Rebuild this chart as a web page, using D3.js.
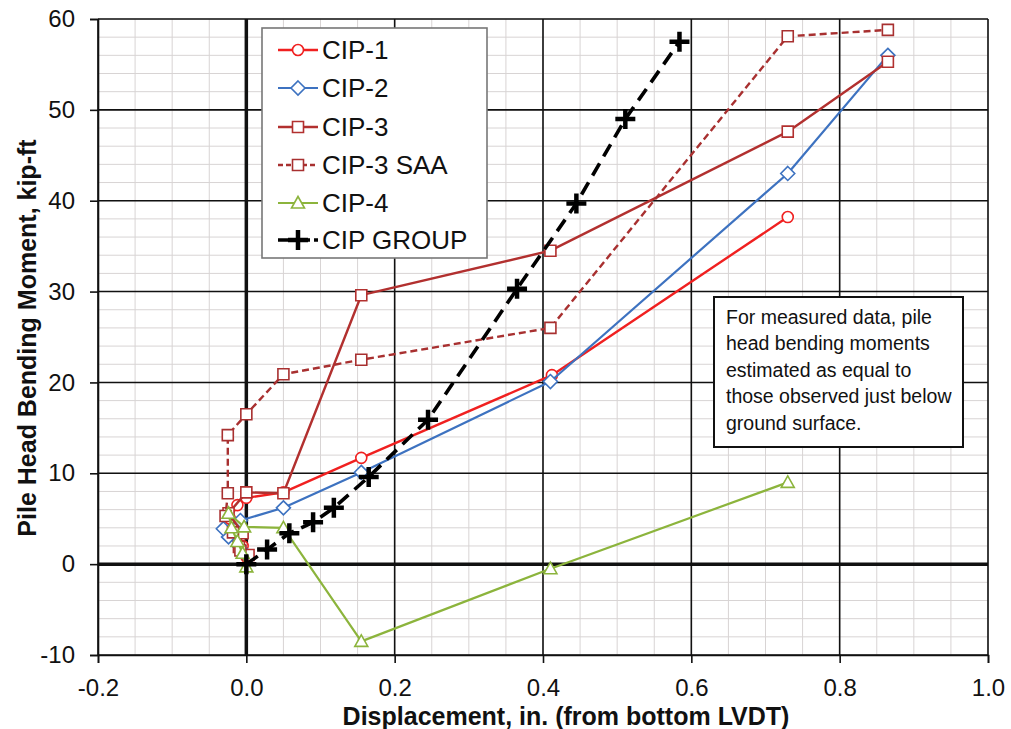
<!DOCTYPE html>
<html>
<head>
<meta charset="utf-8">
<script src="https://cdn.jsdelivr.net/npm/d3@7"></script>
<style>
  body { margin: 0; background: #fff; }
  svg { display: block; }
  text { font-family: "Liberation Sans", Arial, Helvetica, sans-serif; fill: #111; }
</style>
</head>
<body>
<svg id="chart" width="1011" height="729"></svg>
<script>
// Axis ticks
const xTickValues = [-0.2, 0.0, 0.2, 0.4, 0.6, 0.8, 1.0];
const yTickValues = [-10, 0, 10, 20, 30, 40, 50, 60];

// Displacement (in.) and pile head bending moment (kip-ft) per pile
const cip1X = [0.000, -0.005, -0.015, -0.022, -0.012, 0.000, 0.050, 0.155, 0.412, 0.730];
const cip1Y = [0.8, 2.0, 3.5, 5.0, 6.5, 7.3, 7.9, 11.7, 20.8, 38.2];

const cip2X = [0.000, -0.010, -0.024, -0.031, -0.008, 0.050, 0.155, 0.410, 0.730, 0.865];
const cip2Y = [1.0, 2.0, 3.0, 3.9, 4.8, 6.2, 10.1, 20.1, 43.0, 56.0];

const cip3X = [0.003, -0.010, -0.005, -0.024, 0.000, 0.050, 0.155, 0.410, 0.730, 0.865];
const cip3Y = [1.0, 1.9, 3.4, 5.6, 7.9, 7.8, 29.6, 34.5, 47.6, 55.3];

const cip3SaaX = [-0.008, -0.018, -0.028, -0.025, -0.025, 0.000, 0.050, 0.155, 0.410, 0.730, 0.865];
const cip3SaaY = [1.5, 3.5, 5.3, 7.8, 14.2, 16.5, 20.9, 22.5, 26.0, 58.1, 58.8];

const cip4X = [0.000, -0.005, -0.012, -0.020, -0.024, -0.003, 0.050, 0.155, 0.410, 0.730];
const cip4Y = [-0.3, 1.2, 2.5, 4.0, 5.6, 4.1, 4.0, -8.5, -0.5, 9.0];

const groupX = [0.000, 0.028, 0.058, 0.090, 0.118, 0.165, 0.245, 0.365, 0.445, 0.511, 0.584];
const groupY = [0.0, 1.6, 3.4, 4.6, 6.2, 9.6, 15.9, 30.3, 39.7, 49.0, 57.5];

const seriesNames = ["CIP-1", "CIP-2", "CIP-3", "CIP-3 SAA", "CIP-4", "CIP GROUP"];

const noteLines = [
  "For measured data, pile",
  "head bending moments",
  "estimated as equal to",
  "those observed just below",
  "ground surface."
];

(function draw() {
  const series = [
    { name: seriesNames[0], xs: cip1X, ys: cip1Y, color: "#f02020", width: 2.4, dash: null, marker: "circle" },
    { name: seriesNames[1], xs: cip2X, ys: cip2Y, color: "#3d72c0", width: 2.2, dash: null, marker: "diamond" },
    { name: seriesNames[2], xs: cip3X, ys: cip3Y, color: "#b2302f", width: 2.4, dash: null, marker: "square" },
    { name: seriesNames[3], xs: cip3SaaX, ys: cip3SaaY, color: "#a83030", width: 2.4, dash: "7,4", marker: "square" },
    { name: seriesNames[4], xs: cip4X, ys: cip4Y, color: "#8cb43c", width: 2.2, dash: null, marker: "triangle" },
    { name: seriesNames[5], xs: groupX, ys: groupY, color: "#000000", width: 3.6, dash: "14,8", marker: "plus" }
  ];

  const svg = d3.select("#chart");
  const pLeft = 98, pRight = 988, pTop = 19, pBottom = 655;

  const x = d3.scaleLinear().domain([-0.2, 1.0]).range([pLeft, pRight]);
  const y = d3.scaleLinear().domain([-10, 60]).range([pBottom, pTop]);

  svg.append("rect").attr("width", 1011).attr("height", 729).attr("fill", "#fff");

  // Minor grid
  const grid = svg.append("g");
  const minorX = d3.range(-0.2, 1.0001, 0.05).map(v => +v.toFixed(2));
  const minorY = d3.range(-10, 60.001, 2);
  grid.selectAll(".mx").data(minorX).join("line").attr("class", "mx")
    .attr("x1", d => x(d)).attr("x2", d => x(d)).attr("y1", pTop).attr("y2", pBottom)
    .attr("stroke", "#d8d4d4").attr("stroke-width", 1);
  grid.selectAll(".my").data(minorY).join("line").attr("class", "my")
    .attr("y1", d => y(d)).attr("y2", d => y(d)).attr("x1", pLeft).attr("x2", pRight)
    .attr("stroke", "#d8d4d4").attr("stroke-width", 1);

  // Major grid
  grid.selectAll(".Mx").data(xTickValues).join("line").attr("class", "Mx")
    .attr("x1", d => x(d)).attr("x2", d => x(d)).attr("y1", pTop).attr("y2", pBottom)
    .attr("stroke", "#111").attr("stroke-width", d => d === 0 ? 3.5 : 1.6);
  grid.selectAll(".My").data(yTickValues).join("line").attr("class", "My")
    .attr("y1", d => y(d)).attr("y2", d => y(d)).attr("x1", pLeft).attr("x2", pRight)
    .attr("stroke", "#111").attr("stroke-width", d => d === 0 ? 3.5 : 1.6);

  // Axes
  const yAxis = svg.append("g").attr("transform", `translate(${pLeft},0)`)
    .call(d3.axisLeft(y).tickValues(yTickValues).tickSize(8).tickPadding(15).tickFormat(d => String(d)));
  const xAxis = svg.append("g").attr("transform", `translate(0,${pBottom})`)
    .call(d3.axisBottom(x).tickValues(xTickValues).tickSize(8).tickPadding(16).tickFormat(d => d.toFixed(1)));
  [xAxis, yAxis].forEach(g => {
    g.select(".domain").attr("stroke", "#111").attr("stroke-width", 1.6);
    g.selectAll(".tick line").attr("stroke", "#111").attr("stroke-width", 1.6);
    g.selectAll(".tick text").attr("font-size", 24).attr("fill", "#111")
      .style("font-family", '"Liberation Sans", Arial, sans-serif');
  });

  // Axis titles
  svg.append("text")
    .attr("x", 566).attr("y", 725)
    .attr("text-anchor", "middle").attr("font-size", 25).attr("font-weight", "bold")
    .text("Displacement, in. (from bottom LVDT)");
  svg.append("text")
    .attr("transform", "translate(36,338) rotate(-90)")
    .attr("text-anchor", "middle").attr("font-size", 25).attr("font-weight", "bold")
    .text("Pile Head Bending Moment, kip-ft");

  // Marker shapes
  function markerPath(type) {
    switch (type) {
      case "circle": return d3.symbol(d3.symbolCircle, 95)();
      case "diamond": return "M0,-7L7,0L0,7L-7,0Z";
      case "square": return "M-5.5,-5.5H5.5V5.5H-5.5Z";
      case "triangle": return "M0,-6.5L6.5,5L-6.5,5Z";
      case "plus": return "M-10,0H10M0,-10V10";
    }
  }

  const line = d3.line();
  const plot = svg.append("g");
  series.forEach(s => {
    const pts = s.xs.map((v, i) => [x(v), y(s.ys[i])]);
    const g = plot.append("g");
    g.append("path").attr("d", line(pts)).attr("fill", "none")
      .attr("stroke", s.color).attr("stroke-width", s.width)
      .attr("stroke-dasharray", s.dash).attr("stroke-linejoin", "round");
    g.selectAll("path.m").data(pts).join("path").attr("class", "m")
      .attr("transform", d => `translate(${d[0]},${d[1]})`)
      .attr("d", markerPath(s.marker))
      .attr("fill", s.marker === "plus" ? "none" : "#fff")
      .attr("stroke", s.color)
      .attr("stroke-width", s.marker === "plus" ? 4.5 : 1.6);
  });

  // Legend
  const legend = svg.append("g");
  legend.append("rect").attr("x", 262).attr("y", 28).attr("width", 225).attr("height", 230)
    .attr("fill", "#fff").attr("stroke", "#777").attr("stroke-width", 1.6);
  const legendY = [50, 88, 127, 165, 203, 240];
  series.forEach((s, i) => {
    const ly = legendY[i];
    const g = legend.append("g");
    g.append("line").attr("x1", 278).attr("x2", 318).attr("y1", ly).attr("y2", ly)
      .attr("stroke", s.color).attr("stroke-width", s.width)
      .attr("stroke-dasharray", s.dash ? (s.marker === "plus" ? "14,4" : "5,3") : null);
    g.append("path").attr("transform", `translate(298,${ly})`)
      .attr("d", markerPath(s.marker))
      .attr("fill", s.marker === "plus" ? "none" : "#fff")
      .attr("stroke", s.color).attr("stroke-width", s.marker === "plus" ? 4.5 : 1.6);
    g.append("text").attr("x", 322).attr("y", ly + 9)
      .attr("font-size", 26).text(s.name);
  });

  // Note box
  const note = svg.append("g");
  note.append("rect").attr("x", 714).attr("y", 297).attr("width", 249).attr("height", 150)
    .attr("fill", "#fff").attr("stroke", "#111").attr("stroke-width", 2);
  note.selectAll("text").data(noteLines).join("text")
    .attr("x", 726).attr("y", (d, i) => 324 + i * 26.4)
    .attr("font-size", 19.5).text(d => d);
})();
</script>
</body>
</html>
